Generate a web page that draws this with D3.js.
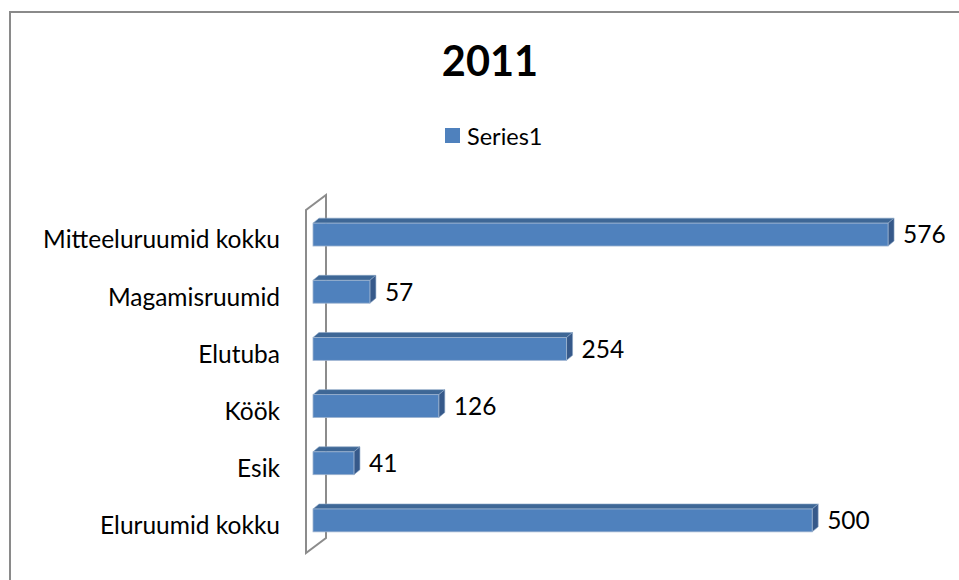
<!DOCTYPE html>
<html>
<head>
<meta charset="utf-8">
<script src="https://cdn.jsdelivr.net/npm/d3@7"></script>
<style>
  html, body { margin: 0; padding: 0; background: #fff; }
  svg { display: block; font-family: Lato, "Open Sans", sans-serif; }
</style>
</head>
<body>
<svg id="chart" width="959" height="580"></svg>
<script>
// Room counts for 2011, listed top to bottom as drawn
const categories = ["Mitteeluruumid kokku", "Magamisruumid", "Elutuba", "Köök", "Esik", "Eluruumid kokku"];
const values = [576, 57, 254, 126, 41, 500];
const seriesName = "Series1";
const title = "2011";

const svg = d3.select("#chart");
const W = 959, H = 580;

// outer chart frame
svg.append("rect")
  .attr("x", 10).attr("y", 12)
  .attr("width", W + 10).attr("height", H + 10)
  .attr("fill", "#fff")
  .attr("stroke", "#8a8a8a").attr("stroke-width", 2);

// scales
const x = d3.scaleLinear().domain([0, 600]).range([313, 912]);
const y = d3.scaleBand().domain(categories).range([206, 549])
  .paddingInner(0.6).paddingOuter(0.3);

// 3D depth of bars and of the side wall
const bdx = 6, bdy = 5;
const wdx = 20, wdy = 15;
const wallX = 306, wallTop = 210, wallBottom = 553;

// side wall (left), back edge first so bars cover it
const wall = svg.append("g").attr("fill", "none")
  .attr("stroke", "#8c8c8c").attr("stroke-width", 2);
wall.append("path")
  .attr("d", `M${wallX},${wallBottom} L${wallX},${wallTop} L${wallX + wdx},${wallTop - wdy} L${wallX + wdx},${wallBottom - wdy} Z`);

const labelSize = 24.5;

// bars
const bars = svg.append("g").selectAll("g").data(categories).join("g");
bars.each(function (c, i) {
  const g = d3.select(this);
  const x0 = x(0), x1 = x(values[i]);
  const y0 = y(c), h = y.bandwidth();
  // top face
  g.append("path")
    .attr("d", `M${x0},${y0} L${x0 + bdx},${y0 - bdy} L${x1 + bdx},${y0 - bdy} L${x1},${y0} Z`)
    .attr("fill", "#3e6796").attr("stroke", "#8aa4c4").attr("stroke-width", 0.6);
  // side face
  g.append("path")
    .attr("d", `M${x1},${y0} L${x1 + bdx},${y0 - bdy} L${x1 + bdx},${y0 + h - bdy} L${x1},${y0 + h} Z`)
    .attr("fill", "#36598a").attr("stroke", "#8aa4c4").attr("stroke-width", 0.6);
  // front face
  g.append("rect")
    .attr("x", x0).attr("y", y0)
    .attr("width", x1 - x0).attr("height", h)
    .attr("fill", "#4f81bd").attr("stroke", "#9db3cf").attr("stroke-width", 0.8);
  // value label
  g.append("text")
    .attr("x", x1 + 15).attr("y", y0 + h / 2)
    .attr("dy", "0.36em")
    .attr("font-size", labelSize).attr("fill", "#000")
    .text(values[i]);
});

// category labels
svg.append("g").selectAll("text").data(categories).join("text")
  .attr("x", 280)
  .attr("y", d => y(d) + y.bandwidth() / 2 + 5)
  .attr("dy", "0.36em")
  .attr("text-anchor", "end")
  .attr("font-size", labelSize).attr("fill", "#000")
  .text(d => d);

// title
svg.append("text")
  .attr("x", 490).attr("y", 76)
  .attr("text-anchor", "middle")
  .attr("font-size", 41.5).attr("font-weight", "bold")
  .text(title);

// legend
svg.append("rect").attr("x", 445).attr("y", 128).attr("width", 15).attr("height", 15)
  .attr("fill", "#4f81bd");
svg.append("text").attr("x", 467).attr("y", 145)
  .attr("font-size", 23.5).text(seriesName);
</script>
</body>
</html>
